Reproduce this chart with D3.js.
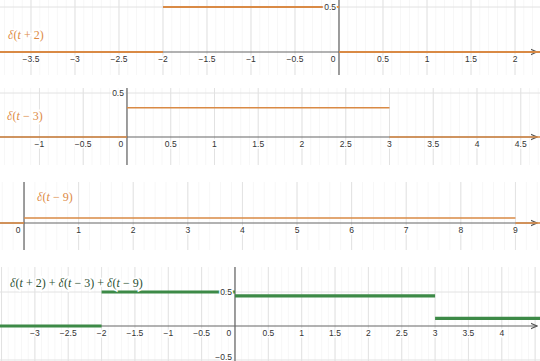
<!DOCTYPE html>
<html>
<head>
<meta charset="utf-8">
<script src="https://cdn.jsdelivr.net/npm/d3@7"></script>
<style>
  body { margin: 0; background: #fff; }
  .tick text { font-family: Arial, "Liberation Sans", sans-serif; font-size: 8.5px; fill: #333; }
</style>
</head>
<body>
<div id="chart"></div>
<script>
// values: each pulse is a rectangle of area 1
var breaks1 = [-2, 0];
var values1 = [0, 0.5, 0];
var breaks2 = [0, 3];
var values2 = [0, 0.333, 0];
var breaks3 = [0, 9];
var values3 = [0, 0.111, 0];
var breaksSum = [-2, 0, 3, 9];
var valuesSum = [0, 0.5, 0.444, 0.111, 0];

// tick labels
var xTicks1 = [-3.5, -3, -2.5, -2, -1.5, -1, -0.5, 0, 0.5, 1, 1.5, 2];
var xTicks2 = [-1, -0.5, 0, 0.5, 1, 1.5, 2, 2.5, 3, 3.5, 4, 4.5];
var xTicks3 = [0, 1, 2, 3, 4, 5, 6, 7, 8, 9];
var xTicks4 = [-3, -2.5, -2, -1.5, -1, -0.5, 0, 0.5, 1, 1.5, 2, 2.5, 3, 3.5, 4];
var yTicks1 = [0.5];
var yTicks2 = [0.5];
var yTicks3 = [];
var yTicks4 = [0.5, -0.5];

var labels = ["δ(t + 2)", "δ(t − 3)", "δ(t − 9)", "δ(t + 2) + δ(t − 3) + δ(t − 9)"];

var width = 540, height = 361;

var svg = d3.select("#chart").append("svg")
  .attr("width", width)
  .attr("height", height);

svg.append("defs").append("marker")
  .attr("id", "arrow")
  .attr("viewBox", "0 0 10 10")
  .attr("refX", 9).attr("refY", 5)
  .attr("markerWidth", 6).attr("markerHeight", 6)
  .attr("orient", "auto")
  .append("path")
  .attr("d", "M0,1 L9,5 L0,9")
  .attr("fill", "none")
  .attr("stroke", "#555")
  .attr("stroke-width", 1.5);

var panels = [
  { top: 0, bottom: 75, xDom: [-3.852, 2.284], yDom: [-0.256, 0.578], step: 0.5,
    breaks: breaks1, values: values1, xTicks: xTicks1, yTicks: yTicks1, minor: 0.1,
    color: "#d98a45", textColor: "#dd8a45", lw: 2, label: labels[0], lx: 8, ly: 39 },
  { top: 88, bottom: 165, xDom: [-1.451, 4.72], yDom: [-0.318, 0.557], step: 0.5,
    breaks: breaks2, values: values2, xTicks: xTicks2, yTicks: yTicks2, minor: 0.1,
    color: "#d98a45", textColor: "#dd8a45", lw: 1.6, label: labels[1], lx: 7, ly: 120 },
  { top: 182, bottom: 250, xDom: [-0.44, 9.45], yDom: [-0.6, 0.911], step: 1,
    breaks: breaks3, values: values3, xTicks: xTicks3, yTicks: yTicks3, minor: 0.2,
    color: "#d98a45", textColor: "#dd8a45", lw: 1.6, label: labels[2], lx: 37, ly: 201 },
  { top: 267, bottom: 361, xDom: [-3.523, 4.573], yDom: [-0.515, 0.868], step: 0.5,
    breaks: breaksSum, values: valuesSum, xTicks: xTicks4, yTicks: yTicks4, minor: 0.1,
    color: "#3d8a47", textColor: "#2c4f31", lw: 3.2, label: labels[3], lx: 10, ly: 287 }
];

function fmt(v) {
  return String(v).replace("-", "\u2212");
}

function drawPanel(p) {
  var x = d3.scaleLinear().domain(p.xDom).range([0, width]);
  var y = d3.scaleLinear().domain(p.yDom).range([p.bottom, p.top]);
  var g = svg.append("g");

  // faint minor grid
  var minorX = d3.range(Math.ceil(p.xDom[0] / p.minor), Math.floor(p.xDom[1] / p.minor) + 1)
    .map(function(i) { return i * p.minor; });
  g.selectAll(".minor").data(minorX).enter().append("line")
    .attr("x1", function(d) { return x(d); }).attr("x2", function(d) { return x(d); })
    .attr("y1", p.top).attr("y2", p.bottom)
    .attr("stroke", "#f7f7f7").attr("stroke-width", 1);

  // major grid, every step across the visible range
  var gridX = d3.range(Math.ceil(p.xDom[0] / p.step), Math.floor(p.xDom[1] / p.step) + 1)
    .map(function(i) { return i * p.step; });
  g.selectAll(".vgrid").data(gridX).enter().append("line")
    .attr("x1", function(d) { return x(d); }).attr("x2", function(d) { return x(d); })
    .attr("y1", p.top).attr("y2", p.bottom)
    .attr("stroke", "#e2e2e2").attr("stroke-width", 1);
  g.selectAll(".hgrid").data(p.yTicks).enter().append("line")
    .attr("x1", 0).attr("x2", width)
    .attr("y1", function(d) { return y(d); }).attr("y2", function(d) { return y(d); })
    .attr("stroke", "#e2e2e2").attr("stroke-width", 1);

  // axes
  g.append("line")
    .attr("x1", 0).attr("x2", width - 3)
    .attr("y1", y(0)).attr("y2", y(0))
    .attr("stroke", "#666").attr("stroke-width", 1.2)
    .attr("marker-end", "url(#arrow)");
  g.append("line")
    .attr("x1", x(0)).attr("x2", x(0))
    .attr("y1", p.top).attr("y2", p.bottom)
    .attr("stroke", "#666").attr("stroke-width", 1.2);

  // the function: constant pieces between breaks
  var edges = [p.xDom[0]].concat(p.breaks).concat([p.xDom[1]]);
  var pieces = p.values.map(function(v, i) {
    return { x0: Math.max(edges[i], p.xDom[0]), x1: Math.min(edges[i + 1], p.xDom[1]), v: v };
  }).filter(function(d) { return d.x1 > d.x0; });
  g.selectAll(".piece").data(pieces).enter().append("line")
    .attr("x1", function(d) { return x(d.x0); })
    .attr("x2", function(d) { return x(d.x1); })
    .attr("y1", function(d) { return y(d.v); })
    .attr("y2", function(d) { return y(d.v); })
    .attr("stroke", p.color)
    .attr("stroke-width", p.lw);

  // tick labels with white halo
  var xl = g.append("g").attr("class", "tick");
  xl.selectAll("text").data(p.xTicks).enter().append("text")
    .attr("x", function(d) { return d === 0 ? x(0) - 6 : x(d); })
    .attr("y", y(0) + 10)
    .attr("text-anchor", "middle")
    .attr("stroke", "#fff").attr("stroke-width", 3).attr("paint-order", "stroke")
    .text(function(d) { return fmt(d); });
  xl.selectAll("text.y").data(p.yTicks).enter().append("text")
    .attr("class", "y")
    .attr("x", x(0) - 3)
    .attr("y", function(d) { return Math.min(y(d) + 3, height - 1); })
    .attr("text-anchor", "end")
    .attr("stroke", "#fff").attr("stroke-width", 3).attr("paint-order", "stroke")
    .text(function(d) { return fmt(d); });

  // formula label, letters in italic
  var t = g.append("text")
    .attr("font-family", "'Liberation Serif', 'DejaVu Serif', serif")
    .attr("font-size", 12)
    .attr("x", p.lx).attr("y", p.ly)
    .attr("fill", p.textColor)
    .attr("stroke", "#fff").attr("stroke-width", 3).attr("paint-order", "stroke")
    .attr("xml:space", "preserve");
  p.label.split("").forEach(function(ch) {
    t.append("tspan")
      .attr("font-style", (ch === "δ" || ch === "t") ? "italic" : "normal")
      .text(ch);
  });
}

panels.forEach(drawPanel);
</script>
</body>
</html>
